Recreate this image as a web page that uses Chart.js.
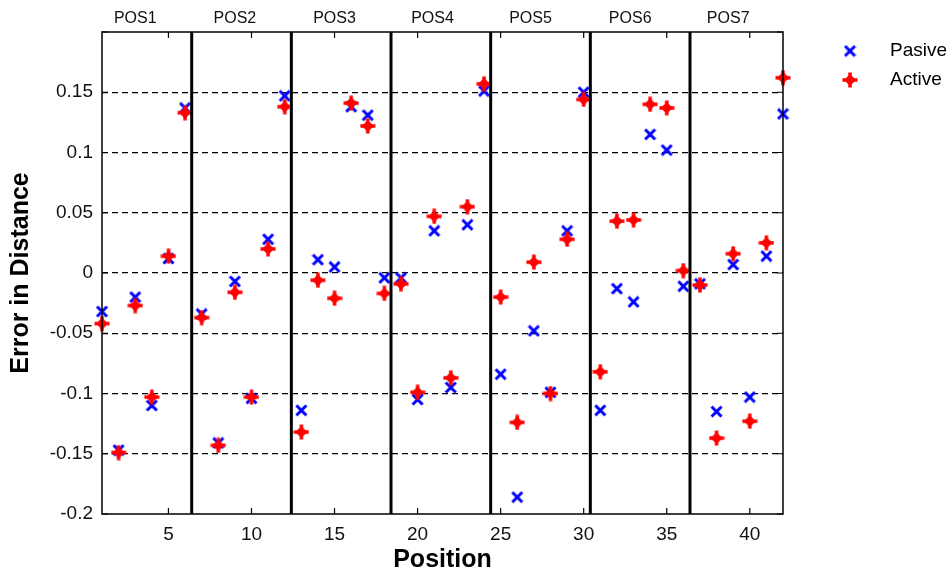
<!DOCTYPE html>
<html>
<head>
<meta charset="utf-8">
<script src="https://cdn.jsdelivr.net/npm/chart.js@4/dist/chart.umd.min.js"></script>
<style>
  html, body { margin: 0; padding: 0; background: #fff; }
  #wrap { width: 952px; height: 571px; }
</style>
</head>
<body>
<div id="wrap"><canvas id="errChart"></canvas></div>
<script>
// positions along the path
const positions = [1, 2, 3, 4, 5, 6, 7, 8, 9, 10, 11, 12, 13, 14, 15, 16, 17, 18, 19, 20, 21,
  22, 23, 24, 25, 26, 27, 28, 29, 30, 31, 32, 33, 34, 35, 36, 37, 38, 39, 40, 41, 42];

const pasive = [-0.032, -0.147, -0.020, -0.110, 0.012, 0.137, -0.034, -0.141, -0.007, -0.104, 0.028, 0.147,
  -0.114, 0.011, 0.005, 0.138, 0.131, -0.004, -0.004, -0.105, 0.035, -0.095, 0.040, 0.151,
  -0.084, -0.186, -0.048, -0.099, 0.035, 0.150, -0.114, -0.013, -0.024, 0.115, 0.102, -0.011,
  -0.009, -0.115, 0.007, -0.103, 0.014, 0.132];

const active = [-0.042, -0.149, -0.027, -0.103, 0.014, 0.133, -0.037, -0.143, -0.016, -0.103, 0.020, 0.138,
  -0.132, -0.006, -0.021, 0.141, 0.122, -0.017, -0.009, -0.099, 0.047, -0.087, 0.055, 0.157,
  -0.020, -0.124, 0.009, -0.100, 0.028, 0.144, -0.082, 0.043, 0.044, 0.140, 0.137, 0.002,
  -0.010, -0.137, 0.016, -0.123, 0.025, 0.162];

const xTicks = [5, 10, 15, 20, 25, 30, 35, 40];
const yTicks = [-0.2, -0.15, -0.1, -0.05, 0, 0.05, 0.1, 0.15, 0.2];
const sectionLabels = ["POS1", "POS2", "POS3", "POS4", "POS5", "POS6", "POS7"];
const sectionCenters = [3, 9, 15, 20.9, 26.8, 32.8, 38.7];
const separators = [6.4, 12.4, 18.4, 24.4, 30.4, 36.4];

const FONT = "'Liberation Sans', Arial, sans-serif";

// marker images
function makeCross() {
  const c = document.createElement("canvas");
  c.width = 13; c.height = 13;
  const g = c.getContext("2d");
  g.strokeStyle = "#0000ff";
  g.lineWidth = 3;
  g.beginPath();
  g.moveTo(1.5, 1.5); g.lineTo(11.5, 11.5);
  g.moveTo(11.5, 1.5); g.lineTo(1.5, 11.5);
  g.stroke();
  return c;
}
function makeStar() {
  const c = document.createElement("canvas");
  c.width = 16; c.height = 16;
  const g = c.getContext("2d");
  g.fillStyle = "#ff0000";
  g.strokeStyle = "#ff0000";
  g.lineWidth = 3.5;
  g.beginPath();
  g.moveTo(8, 0.5); g.lineTo(8, 15.5);
  g.moveTo(0.5, 8); g.lineTo(15.5, 8);
  g.stroke();
  g.beginPath();
  g.moveTo(8, 2); g.lineTo(14, 8); g.lineTo(8, 14); g.lineTo(2, 8);
  g.closePath();
  g.fill();
  return c;
}
const crossImg = makeCross();
const starImg = makeStar();

const frame = {
  id: "frame",
  afterDatasetsDraw(chart) {
    const { ctx, chartArea: a, scales } = chart;
    const x = scales.x, y = scales.y;
    ctx.save();
    // section separators
    ctx.strokeStyle = "#000";
    ctx.lineWidth = 3;
    separators.forEach((s) => {
      const px = x.getPixelForValue(s);
      ctx.beginPath();
      ctx.moveTo(px, a.top);
      ctx.lineTo(px, a.bottom);
      ctx.stroke();
    });
    // box
    ctx.lineWidth = 1.5;
    ctx.strokeRect(a.left, a.top, a.right - a.left, a.bottom - a.top);
    // tick marks
    ctx.lineWidth = 1.2;
    ctx.beginPath();
    xTicks.forEach((v) => {
      const px = x.getPixelForValue(v);
      ctx.moveTo(px, a.bottom); ctx.lineTo(px, a.bottom - 6);
      ctx.moveTo(px, a.top); ctx.lineTo(px, a.top + 6);
    });
    yTicks.forEach((v) => {
      const py = y.getPixelForValue(v);
      ctx.moveTo(a.left, py); ctx.lineTo(a.left + 6, py);
      ctx.moveTo(a.right, py); ctx.lineTo(a.right - 6, py);
    });
    ctx.stroke();
    ctx.restore();
  },
  afterDraw(chart) {
    const ctx = chart.ctx;
    ctx.save();
    ctx.fillStyle = "#000";
    ctx.font = "19px " + FONT;
    ctx.textBaseline = "middle";
    ctx.drawImage(crossImg, 850 - 6.5, 51 - 6.5);
    ctx.fillText("Pasive", 890, 51);
    ctx.drawImage(starImg, 850 - 8, 80 - 8);
    ctx.fillText("Active", 890, 80);
    ctx.restore();
  },
};

new Chart(document.getElementById("errChart"), {
  type: "scatter",
  data: {
    datasets: [
      {
        label: "Pasive",
        data: positions.map((p, i) => ({ x: p, y: pasive[i] })),
        pointStyle: crossImg,
        borderColor: "#0000ff",
        backgroundColor: "#0000ff",
        clip: false,
        order: 1,
      },
      {
        label: "Active",
        data: positions.map((p, i) => ({ x: p, y: active[i] })),
        pointStyle: starImg,
        borderColor: "#ff0000",
        backgroundColor: "#ff0000",
        clip: false,
        order: 0,
      },
    ],
  },
  options: {
    responsive: true,
    maintainAspectRatio: false,
    animation: false,
    devicePixelRatio: 1,
    layout: { padding: { left: 0, right: 169, top: 0, bottom: 0 } },
    plugins: {
      legend: { display: false },
      tooltip: { enabled: false },
    },
    scales: {
      x: {
        type: "linear",
        position: "bottom",
        min: 1,
        max: 42,
        afterBuildTicks: (s) => { s.ticks = xTicks.map((v) => ({ value: v })); },
        afterFit: (s) => { s.height = 57; },
        grid: { display: false, drawTicks: false },
        border: { display: false },
        ticks: { padding: 9, color: "#111", font: { family: FONT, size: 19 }, maxRotation: 0 },
        title: {
          display: true,
          text: "Position",
          color: "#000",
          font: { family: FONT, size: 25, weight: "bold", lineHeight: 0.85 },
          padding: { top: 0, bottom: 0 },
        },
      },
      x2: {
        type: "linear",
        position: "top",
        min: 1,
        max: 42,
        afterBuildTicks: (s) => { s.ticks = sectionCenters.map((v) => ({ value: v })); },
        afterFit: (s) => { s.height = 32; },
        grid: { display: false, drawTicks: false },
        border: { display: false },
        ticks: {
          padding: 4,
          color: "#111",
          font: { family: FONT, size: 16 },
          maxRotation: 0,
          callback: (v, i) => sectionLabels[i],
        },
      },
      y: {
        type: "linear",
        min: -0.2,
        max: 0.2,
        afterBuildTicks: (s) => { s.ticks = yTicks.map((v) => ({ value: v })); },
        afterFit: (s) => { s.width = 102; },
        grid: {
          drawTicks: false,
          lineWidth: 1.3,
          color: (c) => (c.tick && Math.abs(Math.abs(c.tick.value) - 0.2) < 1e-9 ? "rgba(0,0,0,0)" : "#000"),
        },
        border: { display: false, dash: [6, 4] },
        ticks: {
          padding: 9,
          color: "#111",
          font: { family: FONT, size: 19 },
          callback: (v) => (v > 0.19 ? "" : String(Math.round(v * 100) / 100)),
        },
        title: {
          display: true,
          text: "Error in Distance",
          color: "#000",
          font: { family: FONT, size: 25, weight: "bold", lineHeight: 1 },
          padding: { top: 9, bottom: 0 },
        },
      },
    },
  },
  plugins: [frame],
});
</script>
</body>
</html>
